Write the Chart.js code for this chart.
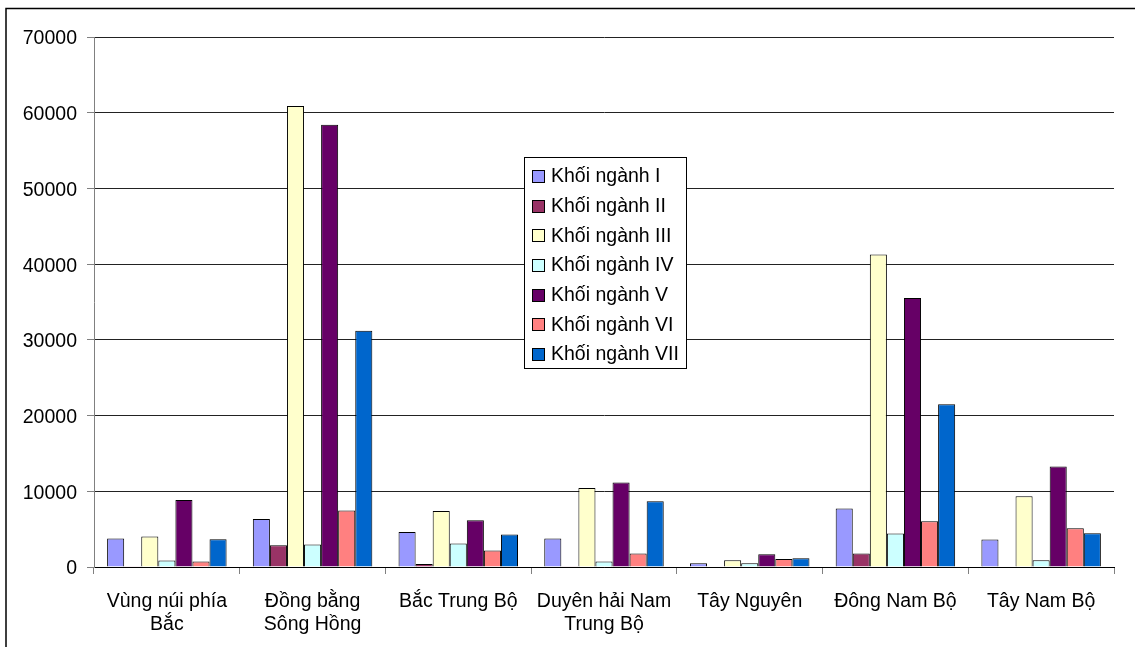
<!DOCTYPE html>
<html>
<head>
<meta charset="utf-8">
<script src="https://cdn.jsdelivr.net/npm/chart.js@4/dist/chart.umd.min.js"></script>
<style>
  html, body { margin: 0; padding: 0; background: #fff; }
  #wrap { width: 1135px; height: 647px; }
</style>
</head>
<body>
<div id="wrap"><canvas id="c" width="1135" height="647"></canvas></div>
<script>
// Regions (x categories)
const regions = [
  ['Vùng núi phía', 'Bắc'],
  ['Đồng bằng', 'Sông Hồng'],
  'Bắc Trung Bộ',
  ['Duyên hải Nam', 'Trung Bộ'],
  'Tây Nguyên',
  'Đông Nam Bộ',
  'Tây Nam Bộ'
];

// Series names
const seriesNames = [
  'Khối ngành I', 'Khối ngành II', 'Khối ngành III', 'Khối ngành IV',
  'Khối ngành V', 'Khối ngành VI', 'Khối ngành VII'
];

// Values per series, one per region
const khoi1 = [3750, 6350, 4630, 3760, 490, 7720, 3620];
const khoi2 = [100, 2870, 400, 100, 50, 1770, 0];
const khoi3 = [4020, 60900, 7410, 10450, 890, 41270, 9350];
const khoi4 = [850, 2960, 3100, 710, 490, 4420, 890];
const khoi5 = [8860, 58400, 6180, 11160, 1680, 35540, 13280];
const khoi6 = [710, 7460, 2170, 1770, 1060, 6050, 5120];
const khoi7 = [3660, 31190, 4290, 8690, 1150, 21480, 4460];

// Y axis ticks
const yTicks = [0, 10000, 20000, 30000, 40000, 50000, 60000, 70000];

const seriesValues = [khoi1, khoi2, khoi3, khoi4, khoi5, khoi6, khoi7];
const seriesColors = ['#9999FF', '#993366', '#FFFFCC', '#CCFFFF', '#660066', '#FF8080', '#0066CC'];

const FONT = 'Liberation Sans, Arial, sans-serif';

// Outer frame around the whole chart
const framePlugin = {
  id: 'frame',
  beforeDraw(chart) {
    const ctx = chart.ctx;
    ctx.save();
    ctx.fillStyle = '#fff';
    ctx.fillRect(0, 0, chart.width, chart.height);
    ctx.strokeStyle = '#000';
    ctx.lineWidth = 1.5;
    ctx.strokeRect(6, 8.5, chart.width + 20, chart.height + 20);
    ctx.restore();
  }
};

// Boxed legend placed inside the plot
const boxLegend = {
  id: 'boxLegend',
  afterDraw(chart) {
    const ctx = chart.ctx;
    const x0 = 524.5, y0 = 157.5, w = 162, h = 211;
    ctx.save();
    ctx.fillStyle = '#fff';
    ctx.fillRect(x0, y0, w, h);
    ctx.strokeStyle = '#000';
    ctx.lineWidth = 1;
    ctx.strokeRect(x0, y0, w, h);
    ctx.font = '19.5px ' + FONT;
    ctx.textBaseline = 'middle';
    chart.data.datasets.forEach((ds, i) => {
      const cy = 176 + i * 29.67;
      ctx.fillStyle = ds.backgroundColor;
      ctx.fillRect(532.5, Math.round(cy - 6) + 0.5, 12, 12);
      ctx.strokeStyle = '#000';
      ctx.strokeRect(532.5, Math.round(cy - 6) + 0.5, 12, 12);
      ctx.fillStyle = '#000';
      ctx.fillText(ds.label, 551, cy + 1);
    });
    ctx.restore();
  }
};

new Chart(document.getElementById('c'), {
  type: 'bar',
  data: {
    labels: regions,
    datasets: seriesNames.map((name, i) => ({
      label: name,
      data: seriesValues[i],
      backgroundColor: seriesColors[i],
      borderColor: '#000',
      borderWidth: 1,
      borderSkipped: 'bottom',
      categoryPercentage: 0.82,
      barPercentage: 1.0
    }))
  },
  options: {
    responsive: false,
    animation: false,
    devicePixelRatio: 1,
    layout: { padding: { left: 0, top: 37, right: 21, bottom: 0 } },
    plugins: {
      legend: { display: false },
      tooltip: { enabled: false }
    },
    scales: {
      x: {
        grid: {
          display: true,
          offset: true,
          drawOnChartArea: false,
          drawTicks: true,
          tickLength: 7,
          color: '#808080'
        },
        border: { display: true, color: '#000', width: 1 },
        ticks: {
          color: '#000',
          font: { family: FONT, size: 19.5, lineHeight: 1.18 },
          padding: 16,
          maxRotation: 0,
          autoSkip: false
        },
        afterFit(scale) { scale.height = 80; }
      },
      y: {
        min: 0,
        max: 70000,
        afterBuildTicks(scale) { scale.ticks = yTicks.map(v => ({ value: v })); },
        grid: {
          color: '#222',
          lineWidth: 1,
          drawTicks: true,
          tickLength: 7,
          tickColor: '#808080'
        },
        border: { display: true, color: '#808080', width: 1 },
        ticks: {
          color: '#000',
          font: { family: FONT, size: 19.5 },
          padding: 10,
          labelOffset: 2,
          callback: v => String(v)
        },
        afterFit(scale) { scale.width = 94; }
      }
    }
  },
  plugins: [framePlugin, boxLegend]
});
</script>
</body>
</html>
